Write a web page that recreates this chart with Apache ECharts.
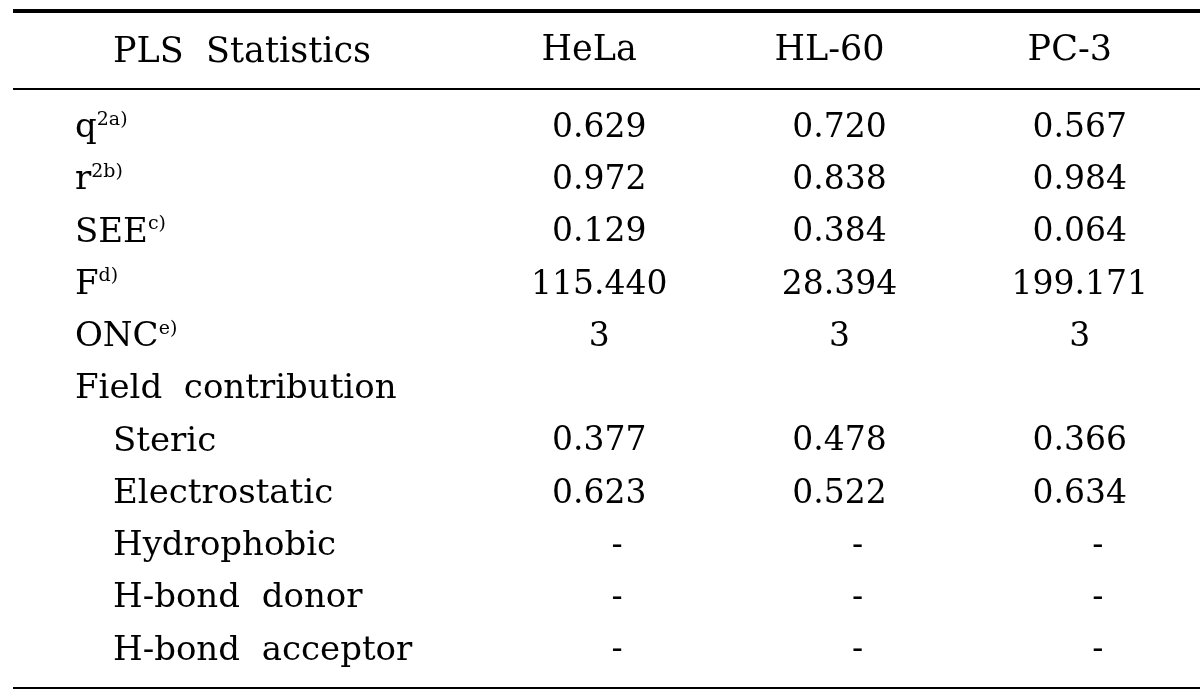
<!DOCTYPE html>
<html>
<head>
<meta charset="utf-8">
<script src="https://cdn.jsdelivr.net/npm/echarts@6/dist/echarts.min.js"></script>
<style>
  html, body { margin: 0; background: #fff; }
  #chart { width: 1200px; height: 696px; }
</style>
</head>
<body>
<div id="chart"></div>
<script>
// table data
const cellLines = ["HeLa", "HL-60", "PC-3"];
const rowNames = ["q", "r", "SEE", "F", "ONC", "Field  contribution", "Steric", "Electrostatic", "Hydrophobic", "H-bond  donor", "H-bond  acceptor"];
const rowNotes = ["2a)", "2b)", "c)", "d)", "e)", "", "", "", "", "", ""];
const indentedRows = ["Steric", "Electrostatic", "Hydrophobic", "H-bond  donor", "H-bond  acceptor"];
const helaValues = [0.629, 0.972, 0.129, 115.440, 3, "", 0.377, 0.623, "-", "-", "-"];
const hl60Values = [0.720, 0.838, 0.384, 28.394, 3, "", 0.478, 0.522, "-", "-", "-"];
const pc3Values = [0.567, 0.984, 0.064, 199.171, 3, "", 0.366, 0.634, "-", "-", "-"];

const FONT = "DejaVu Serif";
const INK = "#000";

// numbers keep 3 decimals, counts stay integer, dashes sit a bit right
const fmt = (v) => {
  if (typeof v !== "number") return v === "-" ? "{d|-}" : v;
  return Number.isInteger(v) ? String(v) : v.toFixed(3);
};

const chart = echarts.init(document.getElementById("chart"));

// one invisible scatter per cell line, labels carry the numbers
const columnSeries = [helaValues, hl60Values, pc3Values].map((vals, c) => ({
  name: cellLines[c],
  type: "scatter",
  symbolSize: 0,
  silent: true,
  itemStyle: { opacity: 1 },
  data: vals.map((v, r) => [c, r, v]),
  label: {
    show: true,
    position: "inside",
    color: INK,
    opacity: 1,
    fontFamily: FONT,
    fontSize: 33,
    formatter: (p) => fmt(p.value[2]),
    rich: {
      d: { fontFamily: FONT, fontSize: 33, color: INK, padding: [0, 0, 0, 36] },
    },
  },
}));

const option = {
  backgroundColor: "#fff",
  animation: false,
  title: {
    text: "PLS  Statistics",
    left: 108,
    top: 30,
    textStyle: { fontFamily: FONT, fontSize: 35, fontWeight: "normal", color: INK },
  },
  grid: { left: 479, right: -2, top: 102, bottom: 19 },
  xAxis: {
    type: "category",
    position: "top",
    data: cellLines,
    axisLine: { show: false },
    axisTick: { show: false },
    splitLine: { show: false },
    axisLabel: { margin: 34, color: INK, fontFamily: FONT, fontSize: 35, padding: [0, 20, 0, 0] },
  },
  yAxis: {
    type: "category",
    inverse: true,
    data: rowNames,
    axisLine: { show: false },
    axisTick: { show: false },
    splitLine: { show: false },
    axisLabel: {
      align: "left",
      margin: 404,
      formatter: (name, i) => {
        const main = indentedRows.includes(name) ? "{sub|" + name + "}" : "{m|" + name + "}";
        return rowNotes[i] ? main + "{s|" + rowNotes[i] + "}" : main;
      },
      rich: {
        m: { fontFamily: FONT, fontSize: 34, color: INK, lineHeight: 36 },
        sub: { fontFamily: FONT, fontSize: 34, color: INK, lineHeight: 36, padding: [0, 0, 0, 38] },
        s: { fontFamily: FONT, fontSize: 19, color: INK, lineHeight: 20, verticalAlign: "top" },
      },
    },
  },
  graphic: [
    { type: "line", shape: { x1: 13, y1: 11, x2: 1200, y2: 11 }, style: { stroke: "#000", lineWidth: 4 } },
    { type: "line", shape: { x1: 13, y1: 89, x2: 1200, y2: 89 }, style: { stroke: "#000", lineWidth: 2 } },
    { type: "line", shape: { x1: 13, y1: 688, x2: 1200, y2: 688 }, style: { stroke: "#000", lineWidth: 2 } },
  ],
  series: columnSeries,
};

chart.setOption(option);
</script>
</body>
</html>
